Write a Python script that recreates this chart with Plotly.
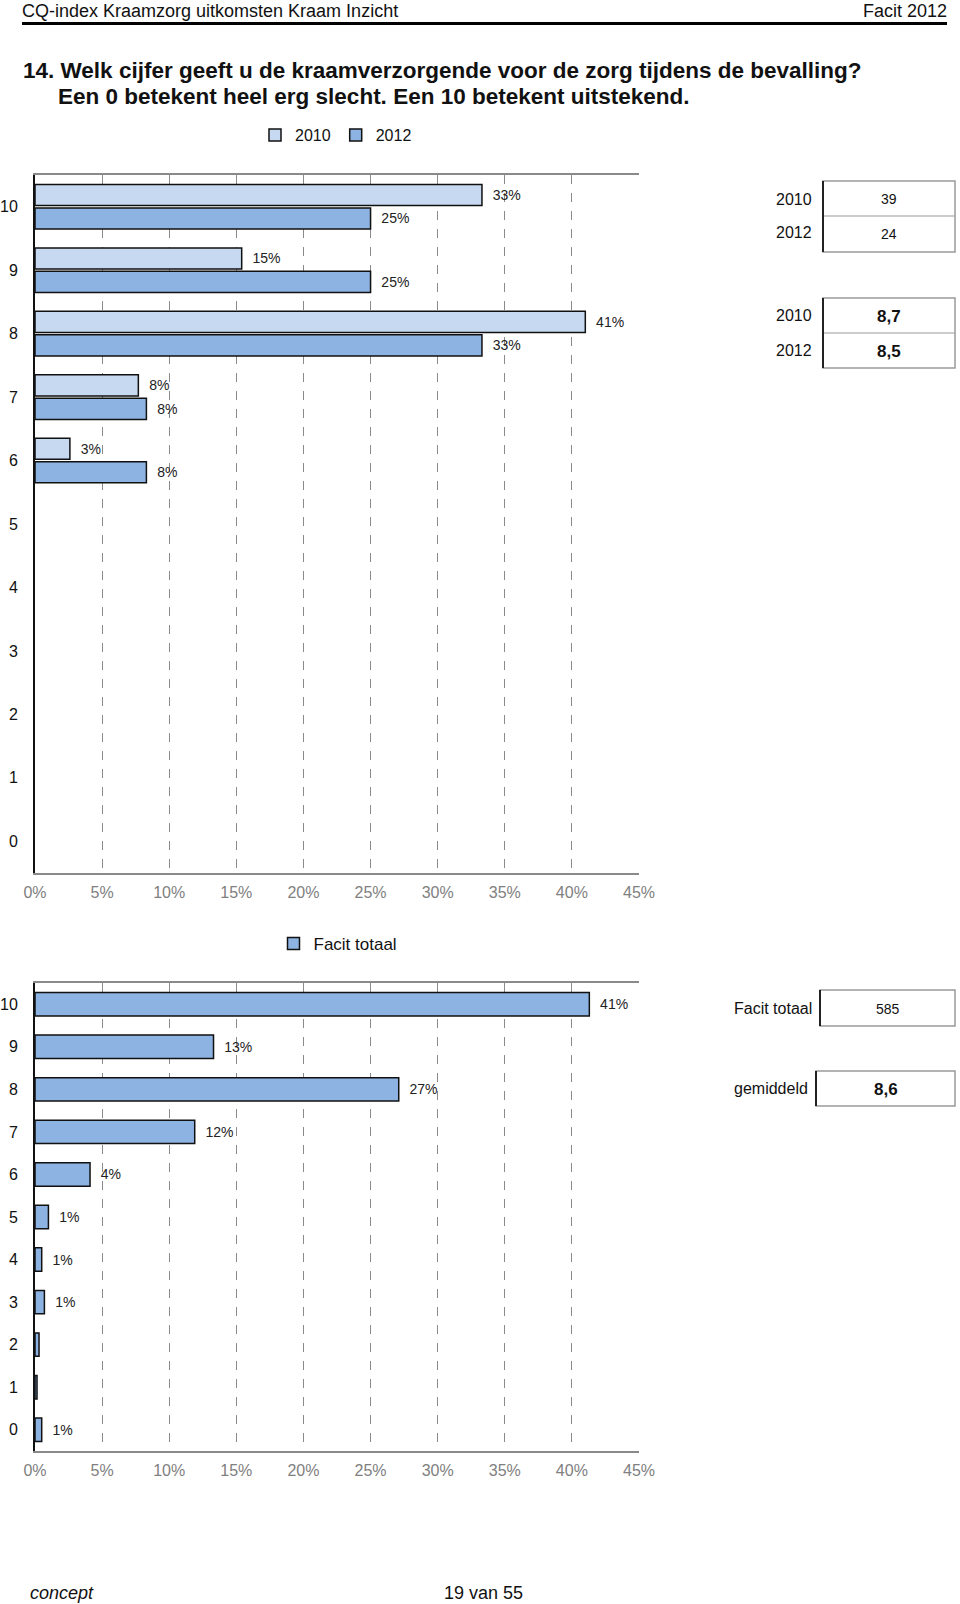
import plotly.graph_objects as go

W, H = 960, 1604

grades = ["10", "9", "8", "7", "6", "5", "4", "3", "2", "1", "0"]
pct_2010 = [33.3, 15.4, 41.0, 7.7, 2.6, 0, 0, 0, 0, 0, 0]
pct_2012 = [25.0, 25.0, 33.3, 8.3, 8.3, 0, 0, 0, 0, 0, 0]
labels_2010 = ["33%", "15%", "41%", "8%", "3%", "", "", "", "", "", ""]
labels_2012 = ["25%", "25%", "33%", "8%", "8%", "", "", "", "", "", ""]
pct_total = [41.3, 13.3, 27.1, 11.9, 4.1, 1.0, 0.5, 0.7, 0.3, 0.15, 0.5]
labels_total = ["41%", "13%", "27%", "12%", "4%", "1%", "1%", "1%", "", "", "1%"]

years = ["2010", "2012"]
n_resp = ["39", "24"]
means = ["8,7", "8,5"]
total_name = "Facit totaal"
total_n = "585"
total_mean = "8,6"

x_ticks = [0, 5, 10, 15, 20, 25, 30, 35, 40, 45]
x_ticktext = ["0%", "5%", "10%", "15%", "20%", "25%", "30%", "35%", "40%", "45%"]

C2010 = "#C6D9F1"
C2012 = "#8DB3E2"
FONT = "Liberation Sans Narrow, Arial Narrow, Liberation Sans, Arial, sans-serif"
FONT_N = "Liberation Sans, Arial, sans-serif"


def px(x):
    return x / W


def py(y):
    return 1 - y / H


def outline(vals):
    # no outline for empty (0%) bars
    return [1.5 if v > 0 else 0 for v in vals]


fig = go.Figure()

lab_fmt = "  %{text}"
fig.add_trace(go.Bar(
    y=grades, x=pct_2010, orientation="h", name="2010", text=labels_2010,
    texttemplate=lab_fmt, textposition="outside", cliponaxis=False,
    textfont=dict(family=FONT_N, size=14, color="#222"),
    marker=dict(color=C2010, line=dict(color="#111", width=outline(pct_2010))),
    xaxis="x", yaxis="y", legend="legend", hoverinfo="skip"))
fig.add_trace(go.Bar(
    y=grades, x=pct_2012, orientation="h", name="2012", text=labels_2012,
    texttemplate=lab_fmt, textposition="outside", cliponaxis=False,
    textfont=dict(family=FONT_N, size=14, color="#222"),
    marker=dict(color=C2012, line=dict(color="#111", width=outline(pct_2012))),
    xaxis="x", yaxis="y", legend="legend", hoverinfo="skip"))
fig.add_trace(go.Bar(
    y=grades, x=pct_total, orientation="h", name=total_name, text=labels_total,
    texttemplate=lab_fmt, textposition="outside", cliponaxis=False,
    textfont=dict(family=FONT_N, size=14, color="#222"),
    marker=dict(color=C2012, line=dict(color="#111", width=outline(pct_total))),
    xaxis="x2", yaxis="y2", legend="legend2", hoverinfo="skip", width=0.55))

xdom = [px(35), px(639)]
top_dom = [py(873), py(175)]
bot_dom = [py(1451), py(983)]

xaxis_common = dict(
    range=[0, 45], tickmode="array", tickvals=x_ticks, ticktext=x_ticktext,
    showgrid=True, automargin=False,
    gridcolor="#8a8a8a", griddash="dash", gridwidth=1, zeroline=False,
    showline=True, linecolor="#8a8a8a", linewidth=2, mirror=True,
    ticks="", ticklabelstandoff=4,
    tickfont=dict(family=FONT_N, size=16, color="#808080"),
    fixedrange=True, domain=xdom)
yaxis_common = dict(
    type="category", categoryorder="array", categoryarray=grades,
    autorange="reversed", showline=True, linecolor="#111", linewidth=2,
    ticks="", ticklabelstandoff=12, showgrid=False, zeroline=False,
    automargin=False,
    tickfont=dict(family=FONT_N, size=16, color="#111"), fixedrange=True)

fig.update_layout(
    width=W, height=H, margin=dict(l=0, r=0, t=0, b=0, autoexpand=False),
    paper_bgcolor="white", plot_bgcolor="white",
    barmode="group", bargap=0.26, bargroupgap=0.1,
    xaxis=dict(xaxis_common, anchor="y"),
    yaxis=dict(yaxis_common, domain=top_dom, anchor="x"),
    xaxis2=dict(xaxis_common, anchor="y2"),
    yaxis2=dict(yaxis_common, domain=bot_dom, anchor="x2"),
    legend=dict(orientation="h", x=px(336), xanchor="center", y=py(135),
                yanchor="middle", font=dict(family=FONT_N, size=16, color="#111"),
                itemwidth=30, bgcolor="rgba(0,0,0,0)"),
    legend2=dict(orientation="h", x=px(338), xanchor="center", y=py(944),
                 yanchor="middle", font=dict(family=FONT_N, size=17, color="#111"),
                 itemwidth=30, bgcolor="rgba(0,0,0,0)"),
    showlegend=True,
)

shapes = []
annotations = []

# header
annotations.append(dict(text="CQ-index Kraamzorg uitkomsten Kraam Inzicht", x=px(20),
                        y=py(11), xref="paper", yref="paper", xanchor="left",
                        yanchor="middle", showarrow=False,
                        font=dict(family=FONT, size=18, color="#111")))
annotations.append(dict(text="Facit 2012", x=px(949), y=py(11), xref="paper",
                        yref="paper", xanchor="right", yanchor="middle",
                        showarrow=False, font=dict(family=FONT, size=18, color="#111")))
shapes.append(dict(type="line", xref="paper", yref="paper", x0=px(22), x1=px(947),
                   y0=py(23.5), y1=py(23.5), line=dict(color="#000", width=3)))

# title
annotations.append(dict(text="<b>14. Welk cijfer geeft u de kraamverzorgende voor de zorg tijdens de bevalling?</b>",
                        x=px(21), y=py(70), xref="paper", yref="paper", xanchor="left",
                        yanchor="middle", showarrow=False,
                        font=dict(family=FONT, size=22.5, color="#111")))
annotations.append(dict(text="<b>Een 0 betekent heel erg slecht. Een 10 betekent uitstekend.</b>",
                        x=px(56), y=py(96), xref="paper", yref="paper", xanchor="left",
                        yanchor="middle", showarrow=False,
                        font=dict(family=FONT, size=22.5, color="#111")))


def table(x0, x1, y0, y1, split):
    out = [dict(type="rect", xref="paper", yref="paper", x0=px(x0), x1=px(x1),
                y0=py(y1), y1=py(y0), line=dict(color="#9a9a9a", width=1.5))]
    if split is not None:
        out.append(dict(type="line", xref="paper", yref="paper", x0=px(x0), x1=px(x1),
                        y0=py(split), y1=py(split), line=dict(color="#9a9a9a", width=1.2)))
    out.append(dict(type="line", xref="paper", yref="paper", x0=px(x0), x1=px(x0),
                    y0=py(y1), y1=py(y0), line=dict(color="#222", width=2)))
    return out


def txt(s, x, y, anchor="center", size=16, bold=False, family=FONT_N):
    return dict(text=("<b>%s</b>" % s) if bold else s, x=px(x), y=py(y), xref="paper",
                yref="paper", xanchor=anchor, yanchor="middle", showarrow=False,
                font=dict(family=family, size=size, color="#111"))


# top tables
shapes += table(823, 955, 181, 252, 216)
shapes += table(823, 955, 298, 368, 333)
for i, (yr, n, m) in enumerate(zip(years, n_resp, means)):
    annotations.append(txt(yr, 814, [199, 233][i], anchor="right", size=16))
    annotations.append(txt(n, 889, [199, 234][i], size=14))
    annotations.append(txt(yr, 814, [315, 350][i], anchor="right", size=16))
    annotations.append(txt(m, 889, [316, 351][i], size=17, bold=True))

# bottom tables
shapes += table(820, 955, 990, 1026, None)
shapes += table(816, 955, 1071, 1106, None)
annotations.append(txt(total_name, 732, 1008, anchor="left", size=16))
annotations.append(txt(total_n, 888, 1009, size=14))
annotations.append(txt("gemiddeld", 732, 1088, anchor="left", size=16))
annotations.append(txt(total_mean, 886, 1089, size=17, bold=True))

# footer
annotations.append(dict(text="<i>concept</i>", x=px(28), y=py(1593), xref="paper",
                        yref="paper", xanchor="left", yanchor="middle", showarrow=False,
                        font=dict(family=FONT, size=18, color="#111")))
annotations.append(txt("19 van 55", 442, 1593, anchor="left", size=18, family=FONT))

fig.update_layout(shapes=shapes, annotations=annotations)
fig.write_html("out.html", config={"displayModeBar": False},
               post_script="document.body.style.margin='0';document.body.style.overflow='hidden';")
